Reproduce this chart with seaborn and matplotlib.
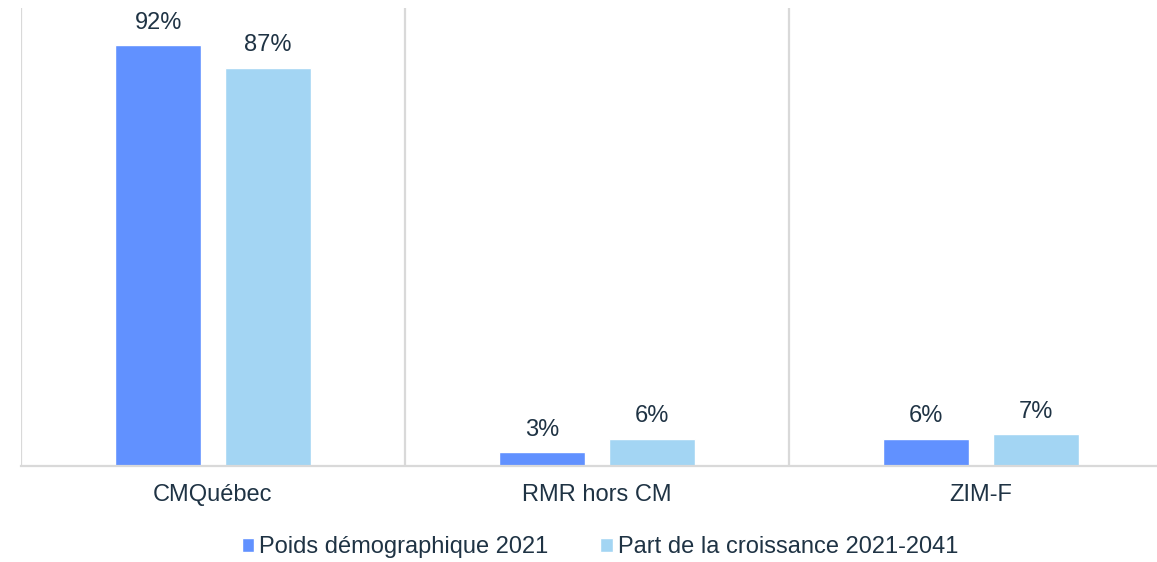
import matplotlib
matplotlib.use("Agg")
import matplotlib.pyplot as plt
import seaborn as sns
import pandas as pd

categories = ["CMQuébec", "RMR hors CM", "ZIM-F"]
series_names = ["Poids démographique 2021", "Part de la croissance 2021-2041"]
poids_2021 = [92, 3, 6]
part_croissance = [87, 6, 7]

colors = ["#6191FF", "#A3D5F3"]
text_color = "#1F3344"
grid_color = "#D9D9D9"

sns.set_theme(style="white")
plt.rcParams["font.family"] = ["Liberation Sans", "DejaVu Sans"]

df = pd.DataFrame({
    "categorie": categories * 2,
    "serie": [series_names[0]] * 3 + [series_names[1]] * 3,
    "valeur": poids_2021 + part_croissance,
})

fig = plt.figure(figsize=(11.57, 5.62), dpi=100)
ax = fig.add_axes([21 / 1157, 96 / 562, 1152 / 1157, 458 / 562])

sns.barplot(data=df, x="categorie", y="valeur", hue="serie",
            hue_order=series_names, palette=colors, width=0.572, gap=0.22,
            saturation=1, ax=ax, legend=True, errorbar=None)

for container in ax.containers:
    ax.bar_label(container, labels=[f"{v:.0f}%" for v in container.datavalues],
                 padding=8, fontsize=17, color=text_color)

ax.set_ylim(0, 100)
ax.set_xlim(-0.5, 2.5)
ax.set_xlabel("")
ax.set_ylabel("")
ax.set_yticks([])
ax.tick_params(axis="x", length=0, pad=13, labelsize=17, labelcolor=text_color)

# vertical separators between categories
for xpos in [-0.5, 0.5, 1.5]:
    ax.axvline(xpos, color=grid_color, lw=1.6, zorder=0)

for side in ["top", "right", "left"]:
    ax.spines[side].set_visible(False)
ax.spines["bottom"].set_color(grid_color)
ax.spines["bottom"].set_linewidth(1.6)

leg = ax.legend(loc="center", bbox_to_anchor=(579 / 1152, -81 / 458), ncol=2,
                frameon=False, fontsize=17, handlelength=0.53, handleheight=0.53,
                handletextpad=0.22, columnspacing=2.2)
for t in leg.get_texts():
    t.set_color(text_color)

fig.savefig("out.png", dpi=100)
